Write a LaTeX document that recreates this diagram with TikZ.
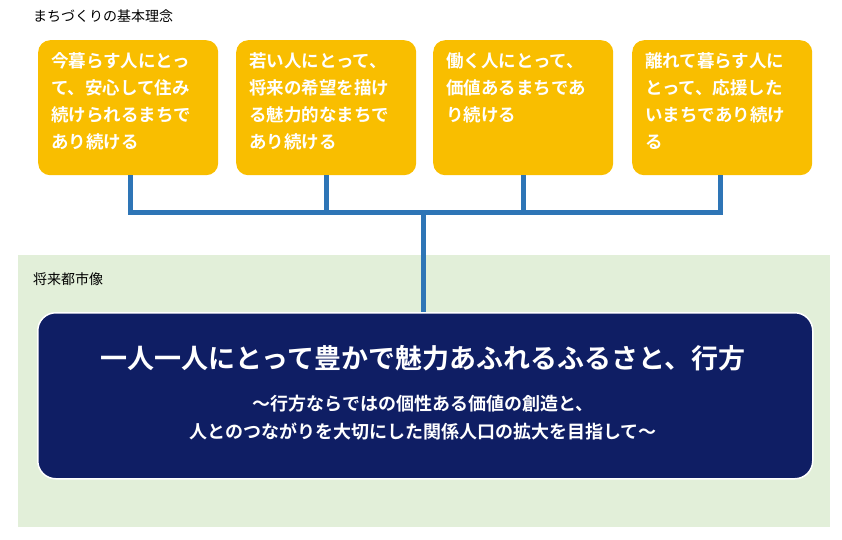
\documentclass[tikz,border=0pt]{standalone}
\usepackage{fontspec}
\setmainfont{Noto Sans CJK JP}
\newfontfamily\jpb{Noto Sans CJK JP Bold}
\definecolor{org}{HTML}{F9BE00}
\definecolor{conn}{HTML}{2E75B6}
\definecolor{navy}{HTML}{0F1E64}
\definecolor{grn}{HTML}{E2EFD9}
\begin{document}
\begin{tikzpicture}[x=1pt,y=-1pt,
  ob/.style={fill=org,rounded corners=12pt,minimum width=180pt,minimum height=135pt,anchor=north west,inner sep=0pt},
  ot/.style={anchor=north west,text=white,font=\jpb\fontsize{17.5}{27}\selectfont,align=left,inner sep=0pt},
  cn/.style={conn,line width=5pt},
  lab/.style={anchor=west,font=\fontsize{14}{16}\selectfont,inner sep=0pt}]
\useasboundingbox (0,0) rectangle (842,539);
\fill[grn] (18,255) rectangle (830,527);
\node[lab] (l1) at (33,16) {まちづくりの基本理念};
\node[lab] (l2) at (33,279) {将来都市像};
\node[ob] (b1) at (38,40) {};
\node[ob] (b2) at (236,40) {};
\node[ob] (b3) at (433,40) {};
\node[ob] (b4) at (632,40) {};
\node[ot] (t1) at (51,52) {今暮らす人にとっ\\て、安心して住み\\続けられるまちで\\あり続ける};
\node[ot] (t2) at (249,52) {若い人にとって、\\将来の希望を描け\\る魅力的なまちで\\あり続ける};
\node[ot] (t3) at (446,52) {働く人にとって、\\価値あるまちであ\\り続ける};
\node[ot] (t4) at (645,52) {離れて暮らす人に\\とって、応援した\\いまちであり続け\\る};
\node[fill=navy,draw=white,line width=1.5pt,rounded corners=18pt,minimum width=775pt,minimum height=166pt,anchor=north west,inner sep=0pt] (main) at (37,312) {};
\coordinate (j1) at (130,212);
\coordinate (j2) at (326,212);
\coordinate (j3) at (523,212);
\coordinate (j4) at (720,212);
\coordinate (jm) at (423,212);
\draw[cn] (j1|-b1.south) -- (j1);
\draw[cn] (j2|-b2.south) -- (j2);
\draw[cn] (j3|-b3.south) -- (j3);
\draw[cn] (j4|-b4.south) -- (j4);
\draw[cn,line cap=rect] (j1) -- (j4);
\draw[cn] (jm) -- (jm|-main.north);
\node[text=white,font=\jpb\fontsize{27}{30}\selectfont,inner sep=0pt] (ti) at (423,358) {一人一人にとって豊かで魅力あふれるふるさと、行方};
\node[text=white,font=\jpb\fontsize{18}{28}\selectfont,align=center,inner sep=0pt] (st) at (423,418) {～行方ならではの個性ある価値の創造と、\\人とのつながりを大切にした関係人口の拡大を目指して～};
\end{tikzpicture}
\end{document}
